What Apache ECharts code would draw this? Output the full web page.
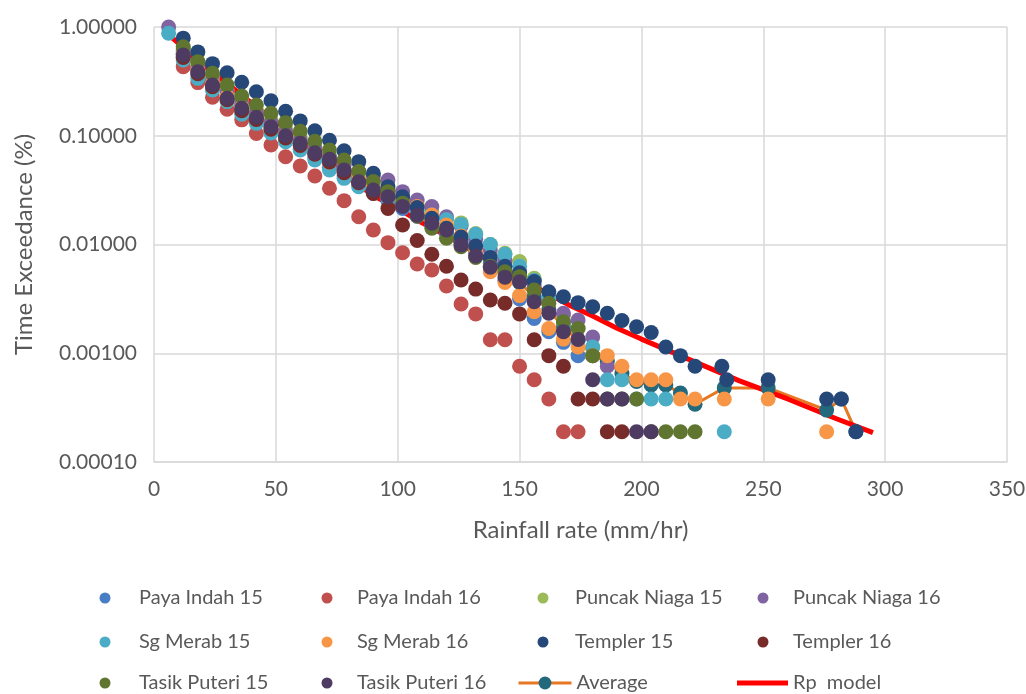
<!DOCTYPE html>
<html>
<head>
<meta charset="utf-8">
<script src="https://cdn.jsdelivr.net/npm/echarts@6/dist/echarts.min.js"></script>
<style>
  html, body { margin: 0; padding: 0; background: #fff; }
  #main { width: 1026px; height: 694px; }
</style>
</head>
<body>
<div id="main"></div>
<script>
// rainfall rate (mm/hr) for every station series
let rate = [6, 12, 18, 24, 30, 36, 42, 48, 54, 60, 66, 72, 78, 84, 90, 96, 102, 108, 114, 120,
    126, 132, 138, 144, 150, 156, 162, 168, 174, 180, 186, 192, 198, 204, 210, 216, 222, 228, 234, 240,
    246, 252, 258, 264, 270, 276, 282, 288];

// time exceedance (%), null = no point
let payaIndah15 = [null, 0.525, 0.363, 0.275, 0.214, 0.166, 0.135, 0.11, 0.0912, 0.0759, 0.0631, 0.0513, 0.0427,
    0.0355, 0.0302, 0.0251, 0.0214, 0.0182, 0.0151, 0.0126, 0.0102, 0.00832, 0.00661, 0.00468, 0.00316, 0.00209,
    0.00158, 0.00126, 0.00095];
let payaIndah16 = [null, 0.432, 0.308, 0.226, 0.175, 0.14, 0.105, 0.0822, 0.0641, 0.0527, 0.0427, 0.0329, 0.0253,
    0.018, 0.0136, 0.0104, 0.00841, 0.00662, 0.00583, 0.00415, 0.00284, 0.0023, 0.00133, 0.00133, 0.00076, 0.00057,
    0.00038, 0.00019, 0.00019];
let puncakNiaga15 = [null, 0.631, 0.447, 0.339, 0.263, 0.209, 0.17, 0.138, 0.115, 0.0955, 0.0794, 0.0661, 0.055,
    0.0447, 0.0372, 0.0316, 0.0269, 0.0229, 0.02, 0.0174, 0.0158, 0.0126, 0.01, 0.00832, 0.00697, 0.00489, 0.00316,
    0.00224, 0.00169, 0.00114];
let puncakNiaga16 = [1.0, 0.603, 0.427, 0.324, 0.251, 0.2, 0.162, 0.132, 0.11, 0.0912, 0.0759, 0.0631, 0.0537,
    0.0468, 0.0427, 0.0392, 0.0306, 0.0256, 0.0223, 0.018, 0.0148, 0.0112, 0.00891, 0.00708, 0.00562, 0.00417,
    0.00316, 0.00233, 0.00202, 0.00141, 0.00076];
let sgMerab15 = [0.875, 0.498, 0.337, 0.264, 0.206, 0.158, 0.13, 0.106, 0.0881, 0.074, 0.0598, 0.0484, 0.0406,
    0.034, 0.0295, 0.0263, 0.0229, 0.0204, 0.0187, 0.017, 0.0153, 0.0124, 0.01, 0.00813, 0.00631, 0.00468, 0.00316,
    0.00191, 0.00133, 0.00114, 0.00057, 0.00057, 0.00038, 0.00038, 0.00038, null, null, null, 0.00019];
let sgMerab16 = [null, 0.562, 0.398, 0.302, 0.229, 0.182, 0.148, 0.12, 0.1, 0.0832, 0.0692, 0.0575, 0.0479, 0.0398,
    0.0339, 0.0288, 0.0251, 0.0223, 0.0187, 0.0151, 0.012, 0.00891, 0.00562, 0.00447, 0.00339, 0.00241, 0.00169,
    0.00135, 0.00114, 0.00095, 0.00095, 0.00076, 0.00057, 0.00057, 0.00057, 0.00038, 0.00038, null, 0.00038, null,
    null, 0.00038, null, null, null, 0.00019];
let templer16 = [null, 0.525, 0.372, 0.282, 0.214, 0.17, 0.141, 0.115, 0.0955, 0.0813, 0.0676, 0.0575, 0.0457,
    0.037, 0.0295, 0.0214, 0.0151, 0.0109, 0.00813, 0.00631, 0.00472, 0.00389, 0.00309, 0.00288, 0.0023, 0.00133,
    0.00095, 0.00076, 0.00038, 0.00038, 0.00019, 0.00019];
let tasikPuteri15 = [null, 0.659, 0.48, 0.375, 0.293, 0.232, 0.192, 0.161, 0.132, 0.11, 0.0891, 0.074, 0.0598,
    0.0468, 0.038, 0.0306, 0.024, 0.0182, 0.0141, 0.0114, 0.00955, 0.00759, 0.00631, 0.00562, 0.00506, 0.00382,
    0.00288, 0.00195, 0.00169, 0.00095, 0.00038, 0.00038, 0.00038, 0.00019, 0.00019, 0.00019, 0.00019];
let tasikPuteri16 = [null, 0.553, 0.388, 0.293, 0.221, 0.179, 0.148, 0.121, 0.1, 0.0851, 0.0698, 0.0607, 0.0484,
    0.0378, 0.0317, 0.0275, 0.0224, 0.0186, 0.0157, 0.0136, 0.00989, 0.00783, 0.00617, 0.00501, 0.00455, 0.00298,
    0.00233, 0.00158, 0.00134, 0.00057, 0.00038, 0.00038, 0.00019, 0.00019];
let average = [null, 0.575, 0.407, 0.309, 0.24, 0.191, 0.155, 0.126, 0.102, 0.0851, 0.0708, 0.0575, 0.0479, 0.0389,
    0.0324, 0.0269, 0.0224, 0.0186, 0.0155, 0.0129, 0.0107, 0.00871, 0.00676, 0.0055, 0.00447, 0.00331, 0.00251,
    0.00174, 0.00132, 0.00095, 0.00084, 0.00065, 0.00055, 0.00051, 0.00051, 0.00043, 0.00034, null, 0.00048, null,
    null, 0.00048, null, null, null, 0.0003, 0.00038, 0.00019];

// Templer 15 has its own rates (two points near 234)
let templer15Rate = [12, 18, 24, 30, 36, 42, 48, 54, 60, 66, 72, 78, 84, 90, 96, 102, 108, 114, 120, 126, 132, 138,
    144, 150, 156, 162, 168, 174, 180, 186, 192, 198, 204, 210, 216, 222, 233, 235, 252, 276, 282, 288];
let templer15 = [0.79, 0.59, 0.46, 0.38, 0.31, 0.254, 0.21, 0.168, 0.137, 0.111, 0.0908, 0.0729, 0.0578, 0.0451,
    0.034, 0.0275, 0.0219, 0.0174, 0.0141, 0.0117, 0.00968, 0.00759, 0.0063, 0.0055, 0.00457, 0.00368, 0.00331,
    0.00292, 0.00268, 0.00233, 0.002, 0.00175, 0.00155, 0.00114, 0.00095, 0.00076, 0.00076, 0.00057, 0.00057,
    0.00038, 0.00038, 0.00019];

// Rp model curve
let rpRate = [7, 10, 20, 30, 40, 50, 60, 70, 80, 90, 100, 110, 120, 130, 140, 150, 160, 170, 180, 190, 200, 220, 240,
    260, 280, 295];
let rpModel = [0.81, 0.71, 0.447, 0.302, 0.2, 0.135, 0.091, 0.0617, 0.0407, 0.0282, 0.0214, 0.0158, 0.012, 0.0089,
    0.0066, 0.0049, 0.0037, 0.0028, 0.0022, 0.0017, 0.00135, 0.00087, 0.00056, 0.00038, 0.00025, 0.000186];

let yTicks = [0.0001, 0.001, 0.01, 0.1, 1];

const FONT = 'Lato';
const TXT = '#595959';

function pairs(xs, ys) {
    let out = [];
    for (let i = 0; i < ys.length; i++) {
        if (ys[i] !== null && ys[i] !== undefined) out.push([xs[i], ys[i]]);
    }
    return out;
}

function dots(name, color, xs, ys) {
    return {
        name: name,
        type: 'scatter',
        symbol: 'circle',
        symbolSize: 15,
        z: 2,
        itemStyle: {color: color, opacity: 1},
        data: pairs(xs, ys)
    };
}

let series = [
    dots('Paya Indah 15', '#4A7EC4', rate, payaIndah15),
    dots('Paya Indah 16', '#C0504D', rate, payaIndah16),
    dots('Puncak Niaga 15', '#9BBB59', rate, puncakNiaga15),
    dots('Puncak Niaga 16', '#8064A2', rate, puncakNiaga16),
    dots('Sg Merab 15', '#4BACC6', rate, sgMerab15),
    dots('Sg Merab 16', '#F79646', rate, sgMerab16),
    dots('Templer 15', '#264878', templer15Rate, templer15),
    dots('Templer 16', '#772C2A', rate, templer16),
    dots('Tasik Puteri 15', '#5F7530', rate, tasikPuteri15),
    dots('Tasik Puteri 16', '#4D3B62', rate, tasikPuteri16),
    {
        // average and model sit behind the station dots
        name: 'Average',
        type: 'line',
        z: 1,
        symbol: 'circle',
        symbolSize: 15,
        showSymbol: true,
        itemStyle: {color: '#23687B'},
        lineStyle: {color: '#E87722', width: 3},
        data: pairs(rate, average)
    },
    {
        name: 'Rp  model',
        type: 'line',
        z: 1,
        symbol: 'none',
        lineStyle: {color: '#FF0000', width: 5},
        itemStyle: {color: '#FF0000'},
        data: pairs(rpRate, rpModel)
    }
];

// legend slots: name, marker centre x, text start x, row centre y
let legendSlots = [
    ['Paya Indah 15', 105, 139, 598], ['Paya Indah 16', 327, 357, 598], ['Puncak Niaga 15', 543, 575, 598], ['Puncak Niaga 16', 763, 793, 598],
    ['Sg Merab 15', 105, 139, 642], ['Sg Merab 16', 327, 357, 642], ['Templer 15', 543, 575, 642], ['Templer 16', 763, 793, 642],
    ['Tasik Puteri 15', 105, 139, 683], ['Tasik Puteri 16', 327, 357, 683]
];

let legends = legendSlots.map(function (s) {
    return {
        data: [s[0]],
        left: s[1] - 5.5,
        top: s[3] - 12,
        padding: 0,
        itemWidth: 11,
        itemHeight: 11,
        selectedMode: false,
        textStyle: {
            fontFamily: FONT, fontSize: 20, color: TXT, lineHeight: 24,
            padding: [0, 0, 0, s[2] - s[1] - 10.5]
        }
    };
});
legends.push({
    data: ['Average'],
    left: 517,
    top: 683 - 12,
    padding: 0,
    itemWidth: 53,
    itemHeight: 16,
    selectedMode: false,
    lineStyle: {width: 3},
    textStyle: {fontFamily: FONT, fontSize: 20, color: TXT, lineHeight: 24}
});
legends.push({
    data: [{name: 'Rp  model', icon: 'rect'}],
    left: 737,
    top: 683 - 12,
    padding: 0,
    itemWidth: 51,
    itemHeight: 5,
    selectedMode: false,
    textStyle: {fontFamily: FONT, fontSize: 20, color: TXT, lineHeight: 24}
});

let myChart = echarts.init(document.getElementById('main'), null, {renderer: 'canvas'});
let option = {
    animation: false,
    backgroundColor: '#ffffff',
    grid: {left: 154, right: 19, top: 27, bottom: 232, containLabel: false, outerBoundsMode: 'none'},
    legend: legends,
    xAxis: {
        type: 'value',
        min: 0,
        max: 350,
        interval: 50,
        name: 'Rainfall rate (mm/hr)',
        nameLocation: 'middle',
        nameGap: 56,
        nameTextStyle: {fontFamily: FONT, fontSize: 24, color: TXT},
        axisLine: {show: true, lineStyle: {color: '#D9D9D9', width: 1.5}},
        axisTick: {show: false},
        axisLabel: {fontFamily: FONT, fontSize: 21, color: TXT, margin: 17},
        splitLine: {show: true, lineStyle: {color: '#D9D9D9', width: 1.5}}
    },
    yAxis: {
        type: 'log',
        logBase: 10,
        min: yTicks[0],
        max: yTicks[yTicks.length - 1],
        name: 'Time Exceedance (%)',
        nameLocation: 'middle',
        nameGap: 118,
        nameTextStyle: {fontFamily: FONT, fontSize: 24, color: TXT},
        axisLine: {show: false},
        axisTick: {show: false},
        axisLabel: {
            fontFamily: FONT, fontSize: 21, color: TXT, margin: 17,
            formatter: function (v) {
                return Number(v).toFixed(5);
            }
        },
        splitLine: {show: true, lineStyle: {color: '#D9D9D9', width: 1.5}}
    },
    series: series
};
myChart.setOption(option);
</script>
</body>
</html>
